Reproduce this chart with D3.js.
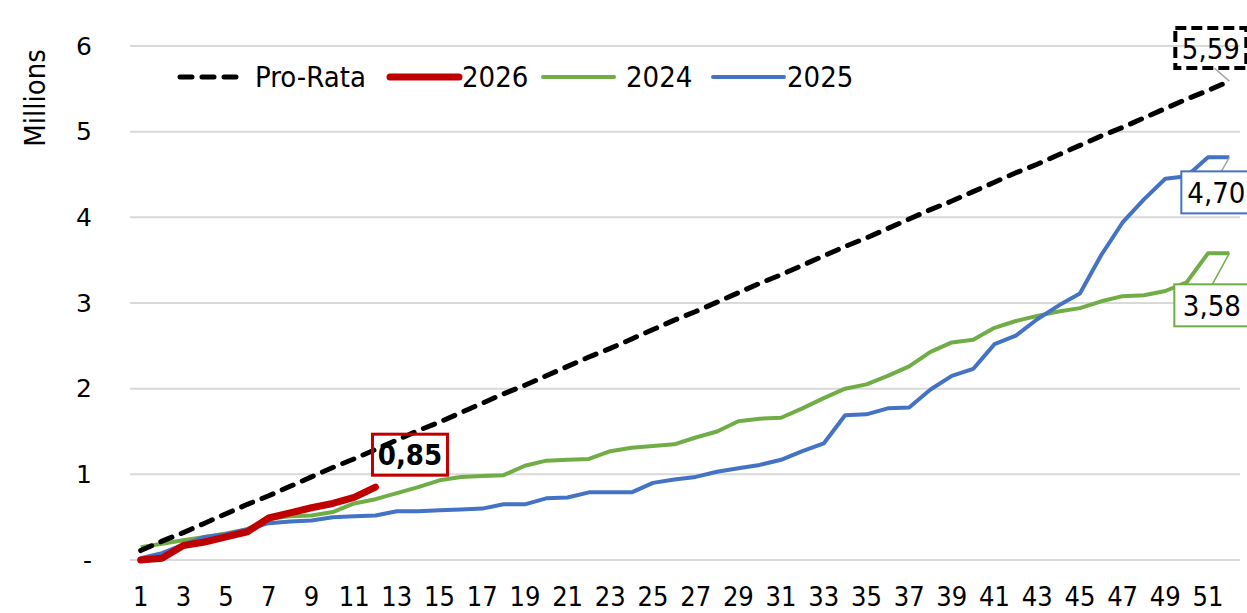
<!DOCTYPE html>
<html>
<head>
<meta charset="utf-8">
<script src="https://cdn.jsdelivr.net/npm/d3@7"></script>
<style>
  body { margin: 0; background: #fff; }
  text { font-family: 'DejaVu Sans Condensed', 'DejaVu Sans', sans-serif; fill: #000; }
</style>
</head>
<body>
<div id="chart"></div>
<script>
// weeks 1..52
const weeks = d3.range(1, 53);
const yTicks = [0, 1, 2, 3, 4, 5, 6];

const proRata = [0.11, 0.22, 0.32, 0.43, 0.54, 0.65, 0.75, 0.86, 0.97, 1.08, 1.18, 1.29, 1.40, 1.51, 1.61, 1.72, 1.83, 1.94, 2.04, 2.15, 2.26, 2.37, 2.47, 2.58, 2.69, 2.80, 2.90, 3.01, 3.12, 3.23, 3.33, 3.44, 3.55, 3.66, 3.76, 3.87, 3.98, 4.09, 4.19, 4.30, 4.41, 4.52, 4.62, 4.73, 4.84, 4.95, 5.05, 5.16, 5.27, 5.38, 5.48, 5.59];
const y2026 = [0.00, 0.02, 0.17, 0.21, 0.27, 0.33, 0.49, 0.55, 0.61, 0.66, 0.73, 0.85];
const y2024 = [0.15, 0.19, 0.23, 0.27, 0.31, 0.36, 0.48, 0.51, 0.52, 0.56, 0.66, 0.71, 0.78, 0.85, 0.93, 0.97, 0.98, 0.99, 1.10, 1.16, 1.17, 1.18, 1.27, 1.31, 1.33, 1.35, 1.43, 1.50, 1.62, 1.65, 1.66, 1.77, 1.89, 2.00, 2.05, 2.15, 2.26, 2.43, 2.54, 2.57, 2.71, 2.79, 2.85, 2.90, 2.94, 3.02, 3.08, 3.09, 3.14, 3.24, 3.58, 3.58];
const y2025 = [0.02, 0.08, 0.18, 0.27, 0.30, 0.36, 0.43, 0.45, 0.46, 0.50, 0.51, 0.52, 0.57, 0.57, 0.58, 0.59, 0.60, 0.65, 0.65, 0.72, 0.73, 0.79, 0.79, 0.79, 0.90, 0.94, 0.97, 1.03, 1.07, 1.11, 1.17, 1.27, 1.36, 1.69, 1.70, 1.77, 1.78, 1.99, 2.15, 2.23, 2.52, 2.62, 2.81, 2.97, 3.11, 3.56, 3.94, 4.21, 4.45, 4.48, 4.70, 4.70];

const W = 1247, H = 613;
const svg = d3.select('#chart').append('svg')
  .attr('width', W).attr('height', H);

const x = d3.scaleBand().domain(weeks).range([130, 1240]);
const cx = d => x(d) + x.bandwidth() / 2;
const y = d3.scaleLinear().domain([0, 6]).range([560, 46]);

// gridlines
svg.append('g')
  .selectAll('line')
  .data(yTicks)
  .join('line')
  .attr('x1', 130).attr('x2', 1240)
  .attr('y1', d => y(d)).attr('y2', d => y(d))
  .attr('stroke', '#d9d9d9').attr('stroke-width', 2);

// y axis labels
const yAxis = svg.append('g')
  .attr('transform', 'translate(92,0)')
  .call(d3.axisLeft(y).tickValues(yTicks).tickSize(0).tickPadding(0)
    .tickFormat(d => d === 0 ? '-' : d));
yAxis.select('.domain').remove();
yAxis.selectAll('text')
  .attr('font-family', null)
  .style('font-family', "'DejaVu Sans', sans-serif")
  .style('font-size', '25px');

svg.append('text')
  .attr('transform', 'translate(45,98) rotate(-90)')
  .attr('text-anchor', 'middle')
  .style('font-size', '29px')
  .text('Millions');

// x axis labels
const xAxis = svg.append('g')
  .attr('transform', 'translate(0,586)')
  .call(d3.axisBottom(x).tickValues(weeks.filter(w => w % 2 === 1)).tickSize(0).tickPadding(0));
xAxis.select('.domain').remove();
xAxis.selectAll('text')
  .attr('font-family', null)
  .style('font-size', '27px')
  .attr('dy', '0.73em');

// lines
const line = d3.line().x((d, i) => cx(weeks[i])).y(d => y(d));

svg.append('path').datum(y2024).attr('d', line)
  .attr('fill', 'none').attr('stroke', '#70ad47').attr('stroke-width', 4).attr('stroke-linejoin', 'round');
svg.append('path').datum(y2025).attr('d', line)
  .attr('fill', 'none').attr('stroke', '#4472c4').attr('stroke-width', 4).attr('stroke-linejoin', 'round');
svg.append('path').datum(y2026).attr('d', line)
  .attr('fill', 'none').attr('stroke', '#c00000').attr('stroke-width', 7)
  .attr('stroke-linejoin', 'round').attr('stroke-linecap', 'round');
svg.append('path').datum(proRata).attr('d', line)
  .attr('fill', 'none').attr('stroke', '#000').attr('stroke-width', 5)
  .attr('stroke-dasharray', '12,10').attr('stroke-linecap', 'round');

// data labels
function dataLabel(week, value, opts) {
  const px = cx(week), py = y(value);
  const g = svg.append('g');
  if (opts.leader) {
    g.append('line')
      .attr('x1', px + opts.leader[0]).attr('y1', py + opts.leader[1])
      .attr('x2', px).attr('y2', py)
      .attr('stroke', opts.leaderColor || '#a6a6a6').attr('stroke-width', 1.5);
  }
  g.append('rect')
    .attr('x', px + opts.dx).attr('y', py + opts.dy)
    .attr('width', opts.w).attr('height', opts.h)
    .attr('fill', opts.fill || '#fff')
    .attr('stroke', opts.stroke).attr('stroke-width', opts.sw)
    .attr('stroke-dasharray', opts.dash || null);
  g.append('text')
    .attr('x', px + opts.dx + opts.w / 2)
    .attr('y', py + opts.dy + opts.h / 2)
    .attr('dy', '0.36em')
    .attr('text-anchor', 'middle')
    .style('font-size', '29px')
    .style('font-weight', opts.bold ? 'bold' : 'normal')
    .text(value.toFixed(2).replace('.', ','));
}

dataLabel(12, y2026[11], { dx: -3, dy: -53, w: 75, h: 41, stroke: '#c00000', sw: 3, bold: true, fill: 'none' });
dataLabel(52, proRata[51], { dx: -54, dy: -53, w: 71, h: 40, stroke: '#000', sw: 4, dash: '11,5', leader: [-15, -13], fill: 'none' });
dataLabel(52, y2025[51], { dx: -48, dy: 14, w: 70, h: 42, stroke: '#4472c4', sw: 2, leader: [-8, 14] });
dataLabel(52, y2024[51], { dx: -55, dy: 31, w: 75, h: 42, stroke: '#70ad47', sw: 2, leader: [-17, 31], leaderColor: '#70ad47' });

// legend
const legend = [
  { name: 'Pro-Rata', color: '#000', width: 5, dash: '12,10', x1: 180, x2: 243, tx: 255 },
  { name: '2026', color: '#c00000', width: 7, x1: 390, x2: 459, tx: 462 },
  { name: '2024', color: '#70ad47', width: 4, x1: 543, x2: 614, tx: 626 },
  { name: '2025', color: '#4472c4', width: 4, x1: 713, x2: 784, tx: 787 }
];
const lg = svg.append('g').selectAll('g').data(legend).join('g');
lg.append('line')
  .attr('x1', d => d.x1).attr('x2', d => d.x2)
  .attr('y1', 77).attr('y2', 77)
  .attr('stroke', d => d.color).attr('stroke-width', d => d.width)
  .attr('stroke-dasharray', d => d.dash || null)
  .attr('stroke-linecap', 'round');
lg.append('text')
  .attr('x', d => d.tx).attr('y', 87)
  .style('font-size', '29px')
  .text(d => d.name);
</script>
</body>
</html>
